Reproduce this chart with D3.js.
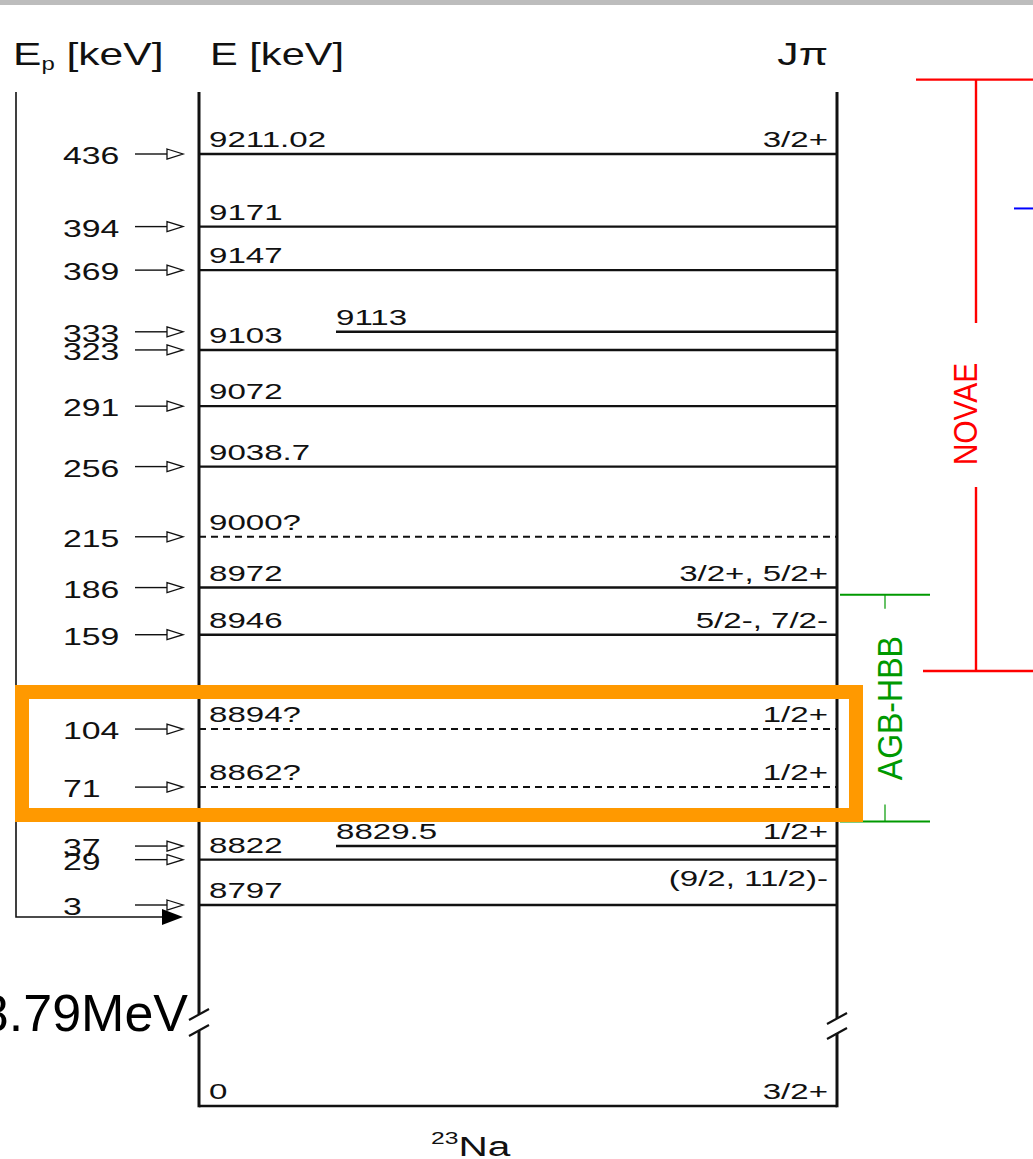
<!DOCTYPE html>
<html>
<head>
<meta charset="utf-8">
<script src="https://cdn.jsdelivr.net/npm/d3@7"></script>
<style>
  body { margin: 0; background: #fff; }
  svg { display: block; }
  text { font-family: "Liberation Sans", Arial, Helvetica, sans-serif; fill: #111; }
</style>
</head>
<body>
<svg id="chart" width="1033" height="1159"></svg>
<script>
// Excited states of 23Na above the proton threshold (keV)
const levelEnergies = [9211.02, 9171, 9147, 9113, 9103, 9072, 9038.7, 9000, 8972, 8946, 8894, 8862, 8829.5, 8822, 8797];
const levelLabels   = ["9211.02", "9171", "9147", "9113", "9103", "9072", "9038.7", "9000?", "8972", "8946", "8894?", "8862?", "8829.5", "8822", "8797"];
// tentative states drawn dashed
const levelTentative = [false, false, false, false, false, false, false, true, false, false, true, true, false, false, false];
// states drawn with a shortened (indented) line
const levelIndented  = [false, false, false, true, false, false, false, false, false, false, false, false, true, false, false];
const levelSpins     = ["3/2+", "", "", "", "", "", "", "", "3/2+, 5/2+", "5/2-, 7/2-", "1/2+", "1/2+", "1/2+", "", "(9/2, 11/2)-"];
// corresponding proton resonance energies (keV)
const resonanceEp    = ["436", "394", "369", "333", "323", "291", "256", "215", "186", "159", "104", "71", "37", "29", "3"];

const groundLabel = "0";
const groundSpin  = "3/2+";
const thresholdLabel = "8.79MeV";

// Gamow windows, expressed as excitation energy in 23Na (keV)
const novaeWindow = [9252, 8926];
const agbWindow   = [8968, 8843];
const blueMarkE   = 9181;

const svg = d3.select("#chart");
const FONT_SX = 1.47;

const y = d3.scaleLinear().domain([8797, 9211.02]).range([905, 154]);
const yGround = 1106;
const xL = 199, xR = 837, xIndent = 336;

function txt(g, x, yy, s, size, anchor, sx, color) {
  return g.append("text")
    .attr("transform", `translate(${x},${yy}) scale(${sx == null ? FONT_SX : sx},1)`)
    .attr("font-size", size)
    .attr("text-anchor", anchor || "start")
    .style("fill", color || "#111")
    .text(s);
}

// top grey band
svg.append("rect").attr("x", 0).attr("y", 0).attr("width", 1033).attr("height", 5).attr("fill", "#bdbdbd");

// column headers
const hdr = svg.append("text")
  .attr("transform", `translate(13,65) scale(1.33,1)`)
  .attr("font-size", 32);
hdr.append("tspan").text("E");
hdr.append("tspan").attr("font-size", 18).attr("dy", 5).text("p");
hdr.append("tspan").attr("dy", -5).text(" [keV]");
txt(svg, 210, 65, "E [keV]", 32, "start", 1.3);
txt(svg, 828, 65, "J\u03C0", 32, "end", 1.33);

const data = levelEnergies.map((e, i) => ({
  e, label: levelLabels[i], dashed: levelTentative[i], indent: levelIndented[i],
  spin: levelSpins[i], ep: resonanceEp[i]
}));

// level lines
const lv = svg.append("g");
lv.selectAll("line").data(data).join("line")
  .attr("x1", d => d.indent ? xIndent : xL)
  .attr("x2", xR)
  .attr("y1", d => y(d.e)).attr("y2", d => y(d.e))
  .attr("stroke", "#111")
  .attr("stroke-width", d => d.dashed ? 2 : 2.4)
  .attr("stroke-dasharray", d => d.dashed ? "7,5" : null);

// ground state
lv.append("line").attr("x1", xL).attr("x2", xR).attr("y1", yGround).attr("y2", yGround)
  .attr("stroke", "#111").attr("stroke-width", 2.6);

// energy labels and spins
data.forEach(d => {
  txt(svg, d.indent ? xIndent : 209, y(d.e) - 7, d.label, 22.5);
  if (d.spin) txt(svg, 828, y(d.e) - (d.spin.startsWith("(") ? 19 : 7), d.spin, 22.5, "end");
});
txt(svg, 209, yGround - 7, groundLabel, 22.5);
txt(svg, 828, yGround - 7, groundSpin, 22.5, "end");

// vertical frame with axis breaks
const ax = svg.append("g").attr("stroke", "#111").attr("fill", "none");
ax.append("line").attr("x1", xL).attr("x2", xL).attr("y1", 92).attr("y2", 1014).attr("stroke-width", 3);
ax.append("line").attr("x1", xL).attr("x2", xL).attr("y1", 1031).attr("y2", yGround + 1.3).attr("stroke-width", 3);
ax.append("line").attr("x1", xR).attr("x2", xR).attr("y1", 92).attr("y2", 1018).attr("stroke-width", 3);
ax.append("line").attr("x1", xR).attr("x2", xR).attr("y1", 1033).attr("y2", yGround + 1.3).attr("stroke-width", 3);
[[189, 1020, 209, 1009], [189, 1036, 209, 1025], [827, 1024, 847, 1013], [827, 1039, 847, 1028]].forEach(s => {
  ax.append("line").attr("x1", s[0]).attr("y1", s[1]).attr("x2", s[2]).attr("y2", s[3]).attr("stroke-width", 2.2);
});

// proton threshold text
svg.append("text").attr("x", 188).attr("y", 1031).attr("font-size", 52).attr("text-anchor", "end")
  .style("fill", "#000").text(thresholdLabel);

// nucleus label
const nuc = svg.append("text").attr("transform", "translate(431,1156) scale(1.45,1)").attr("font-size", 28);
nuc.append("tspan").attr("font-size", 17).attr("dy", -12).text("23");
nuc.append("tspan").attr("dy", 12).text("Na");

// Ep axis with resonance arrows
const ep = svg.append("g");
ep.append("path").attr("d", "M16,92 V917 H164").attr("fill", "none").attr("stroke", "#111").attr("stroke-width", 1.6);
ep.append("path").attr("d", "M162,909 L183,917 L162,925 Z").attr("fill", "#000");
data.forEach(d => {
  const yy = y(d.e);
  ep.append("line").attr("x1", 135).attr("x2", 167).attr("y1", yy).attr("y2", yy)
    .attr("stroke", "#111").attr("stroke-width", 1.4);
  ep.append("path").attr("d", `M167,${yy - 5} L183,${yy} L167,${yy + 5} Z`)
    .attr("fill", "#fff").attr("stroke", "#111").attr("stroke-width", 1.3);
  txt(ep, 63, yy + 10, d.ep, 23);
});

// NOVAE Gamow window (red)
const red = "#ff0000";
const nTop = y(novaeWindow[0]), nBot = y(novaeWindow[1]);
const nMid = 414;
const rg = svg.append("g").attr("stroke", red).attr("stroke-width", 2.4);
rg.append("line").attr("x1", 916).attr("x2", 1033).attr("y1", nTop).attr("y2", nTop);
rg.append("line").attr("x1", 923).attr("x2", 1033).attr("y1", nBot).attr("y2", nBot);
rg.append("line").attr("x1", 976).attr("x2", 976).attr("y1", nTop).attr("y2", nMid - 91);
rg.append("line").attr("x1", 976).attr("x2", 976).attr("y1", nMid + 73).attr("y2", nBot);
svg.append("text").attr("transform", `translate(977,${nMid}) rotate(-90) scale(1,1.1)`)
  .attr("font-size", 30).attr("text-anchor", "middle").style("fill", red).text("NOVAE");

// blue marker
const yb = y(blueMarkE);
svg.append("line").attr("x1", 1014).attr("x2", 1033).attr("y1", yb).attr("y2", yb)
  .attr("stroke", "#0000ff").attr("stroke-width", 2);

// AGB-HBB Gamow window (green)
const green = "#009900";
const aTop = y(agbWindow[0]), aBot = y(agbWindow[1]);
const gg = svg.append("g").attr("stroke", green);
gg.append("line").attr("x1", 840).attr("x2", 930).attr("y1", aTop).attr("y2", aTop).attr("stroke-width", 2);
gg.append("line").attr("x1", 840).attr("x2", 930).attr("y1", aBot).attr("y2", aBot).attr("stroke-width", 2);
gg.append("line").attr("x1", 885).attr("x2", 885).attr("y1", aTop).attr("y2", aTop + 14).attr("stroke-width", 1.2);
gg.append("line").attr("x1", 885).attr("x2", 885).attr("y1", aBot).attr("y2", aBot - 17).attr("stroke-width", 1.2);
svg.append("text").attr("transform", `translate(902,${(aTop + aBot) / 2}) rotate(-90) scale(1,1.08)`)
  .attr("font-size", 32).attr("text-anchor", "middle").style("fill", green).text("AGB-HBB");

// highlight around the sub-threshold 1/2+ candidates
svg.append("rect").attr("x", 22).attr("y", 692).attr("width", 834).attr("height", 123)
  .attr("fill", "none").attr("stroke", "#ff9900").attr("stroke-width", 14);
</script>
</body>
</html>
